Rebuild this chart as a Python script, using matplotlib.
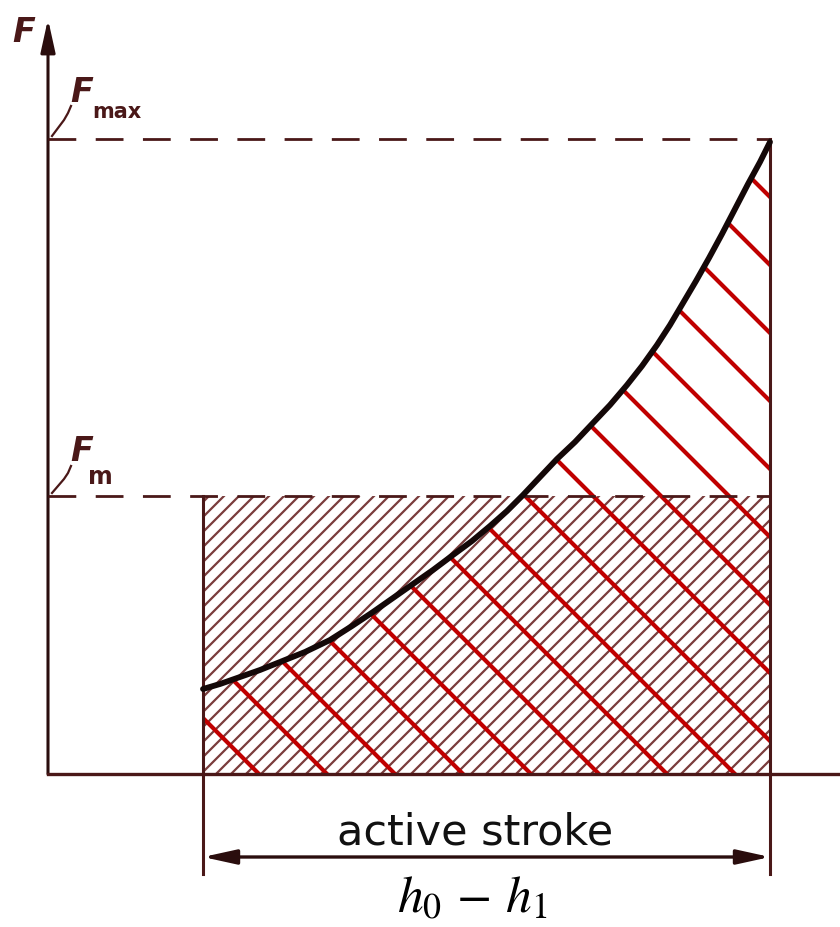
import numpy as np
import matplotlib.pyplot as plt
from matplotlib.patches import Polygon, Rectangle

# spring force curve (drawing units, y grows downwards)
stroke = [203, 220, 240, 260, 280, 305, 330, 352, 373, 393, 413, 433, 453, 472,
          490, 507, 523, 540, 557, 575, 592, 610, 627, 642, 657, 670, 683, 696,
          709, 722, 735, 748, 760, 770]
force = [690, 685, 678, 671, 663, 653, 641, 627, 613, 599, 585, 571, 556, 542,
         527, 512, 496, 478, 460, 443, 425, 406, 386, 367, 346, 326, 304, 282,
         259, 235, 210, 185, 163, 143]

h_start, h_end = 203, 770     # active stroke h0 - h1
f_max, f_m = 140, 497         # F_max and F_m levels
base = 775                    # stroke axis
axis_x = 48                   # force axis
dim_y = 858                   # dimension line

ink = '#4a1818'
red = '#c00000'

fig = plt.figure(figsize=(8.4, 9.28), dpi=100)
ax = fig.add_axes([0, 0, 1, 1])
ax.set_xlim(0, 840)
ax.set_ylim(928, 0)
ax.axis('off')

# dense hatching of the mean-force rectangle
rect = Rectangle((h_start, f_m), h_end - h_start, base - f_m, fill=False, lw=0)
ax.add_patch(rect)
for c in np.arange(h_start + f_m + 6, h_end + base + 15, 15):
    ln, = ax.plot([c - 1000, c], [1000, 0], color='#7a3c3c', lw=1.6, zorder=2)
    ln.set_clip_path(rect)

# red hatching under the curve
area = Polygon(list(zip(stroke, force)) + [(h_end, base), (h_start, base)],
               closed=True, fill=False, lw=0)
ax.add_patch(area)
for c in np.arange(-516, 600, 68):
    ln, = ax.plot([c, c + 1000], [0, 1000], color=red, lw=3, zorder=3)
    ln.set_clip_path(area)

# curve
ax.plot(stroke, force, color='#140808', lw=4.2, solid_capstyle='round',
        solid_joinstyle='round', zorder=5)

# dashed force levels
for lev in (f_max, f_m):
    ax.plot([axis_x, h_end], [lev, lev], color=ink, lw=2, ls=(0, (10, 7)), zorder=4)

# rectangle sides and extension lines
ax.plot([h_start, h_start], [f_m, 875], color=ink, lw=2.2, zorder=4)
ax.plot([h_end, h_end], [f_max, 875], color=ink, lw=2.2, zorder=4)

# axes
ax.plot([axis_x, 840], [base, base], color=ink, lw=2.4, zorder=4)
ax.annotate('', xy=(axis_x, 20), xytext=(axis_x, base),
            arrowprops=dict(arrowstyle='-|>,head_length=1.0,head_width=0.22',
                            color='#2a0d0d', lw=2.2, mutation_scale=20,
                            shrinkA=0, shrinkB=0))

# dimension arrow
ax.annotate('', xy=(h_start, dim_y), xytext=(h_end, dim_y),
            arrowprops=dict(arrowstyle='<|-|>,head_length=1.0,head_width=0.22',
                            color='#2a0d0d', lw=2.4, mutation_scale=20,
                            shrinkA=0, shrinkB=0))

# leader lines for the labels
ax.plot([52, 58, 64, 68, 71], [137, 129, 121, 114, 107], color=ink, lw=1.6)
ax.plot([52, 58, 64, 68, 71], [494, 487, 480, 474, 467], color=ink, lw=1.6)

lab = dict(color=ink, style='italic', fontweight='bold', family='DejaVu Sans')
ax.text(24, 33, 'F', fontsize=24, ha='center', va='center', **lab)
ax.text(82, 92, 'F', fontsize=24, ha='center', va='center', **lab)
ax.text(92, 118, 'max', fontsize=15, ha='left', va='baseline', color=ink,
        fontweight='bold', family='DejaVu Sans Condensed')
ax.text(82, 452, 'F', fontsize=24, ha='center', va='center', **lab)
ax.text(88, 484, 'm', fontsize=17, ha='left', va='baseline', color=ink,
        fontweight='bold', family='DejaVu Sans Condensed')

ax.text(475, 845, 'active stroke', fontsize=31, ha='center', va='baseline',
        color='#111111', family='DejaVu Sans')
plt.rcParams['mathtext.fontset'] = 'stix'
ax.text(472, 913, r'$h_0\,-\,h_1$', fontsize=37, ha='center', va='baseline',
        color='black')

fig.savefig('out.png', dpi=100, facecolor='white')
